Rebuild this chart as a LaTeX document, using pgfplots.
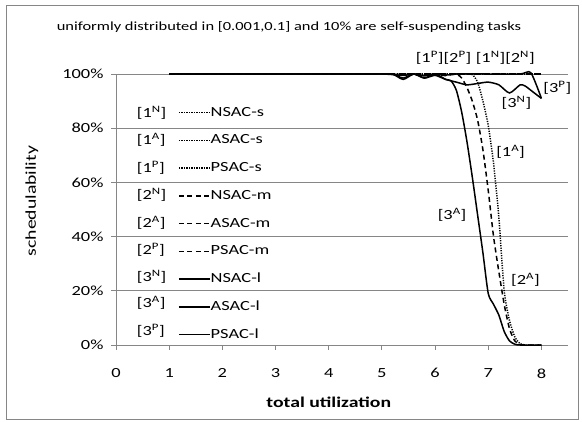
\documentclass[border=0pt]{standalone}
\usepackage{pgfplots}
\pgfplotsset{compat=1.18}
\usepackage{fontspec}
\setmainfont{Carlito}[FakeStretch=1.32]
\definecolor{gridc}{RGB}{134,134,134}
\begin{document}
\begin{tikzpicture}[x=1bp,y=1bp]
\useasboundingbox (0,0) rectangle (582,421);
\draw[gridc,line width=0.8bp] (6,2) rectangle (578,416);
\node[font=\fontsize{12.5}{14}\selectfont] at (289,394) {uniformly distributed in [0.001,0.1] and 10\% are self-suspending tasks};
\begin{axis}[
  at={(116bp,76bp)}, anchor=south west,
  scale only axis, width=452bp, height=271bp,
  xmin=0, xmax=8.5, ymin=0, ymax=100,
  xtick={0,1,...,8}, ytick={0,20,...,100},
  yticklabel={\pgfmathprintnumber{\tick}\%},
  axis x line*=bottom, axis y line*=left,
  axis line style={gridc, line width=0.8bp},
  every tick/.style={gridc, line width=0.8bp},
  tick align=outside, major tick length=5bp,
  ymajorgrids, grid style={gridc, line width=0.8bp},
  tick label style={font=\fontsize{14}{16}\selectfont},
  /pgf/number format/assume math mode=true,
  xticklabel style={yshift=-15bp},
  yticklabel style={xshift=-4bp},
  xlabel={\textbf{total utilization}},
  xlabel style={font=\fontsize{15}{17}\selectfont, at={(axis description cs:0.4706,0)}, anchor=center, yshift=-57bp},
  ylabel={schedulability},
  ylabel style={font=\fontsize{15}{17}\selectfont, at={(axis description cs:-0.186,0.531)}, anchor=center},
  clip=false,
  legend style={at={(axis cs:1.11,89)}, anchor=north west, draw=none, fill=none,
    font=\fontsize{14}{16}\selectfont, row sep=14.75bp,
    nodes={inner sep=0pt, text height=10bp, text depth=3bp}},
  legend cell align=left,
  legend image code/.code={\draw[#1] (0bp,0bp) -- (31bp,0bp);},
  every axis plot/.append style={black, line width=1.5bp, smooth, tension=0.4, no markers},
]
% [1^N] NSAC-s (dotted)
\addplot[black, dash pattern=on 1.2bp off 1.3bp] coordinates {(1,100)(2,100)(3,100)(4,100)(5,100)(6,100)(7,100)(7.5,100)(8,100)};
\addlegendentry{NSAC-s}
% [1^A] ASAC-s (dotted)
\addplot[black, dash pattern=on 1.2bp off 1.3bp] coordinates {(1,100)(5,100)(6,100)(6.6,100)(6.7,99.8)(6.8,97)(6.9,90)(7.0,81)(7.1,67)(7.2,47)(7.3,20)(7.4,9)(7.5,3)(7.6,0.5)(7.7,0)(8,0)};
\addlegendentry{ASAC-s}
% [1^P] PSAC-s (dotted)
\addplot[black, dash pattern=on 1.2bp off 1.3bp] coordinates {(1,100)(2,100)(3,100)(4,100)(5,100)(6,100)(7,100)(8,100)};
\addlegendentry{PSAC-s}
% [2^N] NSAC-m (dashed)
\addplot[black, dash pattern=on 5bp off 3.5bp] coordinates {(1,100)(2,100)(3,100)(4,100)(5,100)(6,100)(7,100)(8,100)};
\addlegendentry{NSAC-m}
% [2^A] ASAC-m (dashed)
\addplot[black, dash pattern=on 5bp off 3.5bp] coordinates {(1,100)(5,100)(6,100)(6.4,99.8)(6.5,98.5)(6.6,95)(6.7,90)(6.8,83)(6.9,72)(7.0,57)(7.1,40)(7.2,27)(7.3,15)(7.4,6)(7.5,1.5)(7.6,0.2)(7.7,0)(8,0)};
\addlegendentry{ASAC-m}
% [2^P] PSAC-m (dashed)
\addplot[black, dash pattern=on 5bp off 3.5bp] coordinates {(1,100)(2,100)(3,100)(4,100)(5,100)(5.8,99.6)(6,100)(6.2,99.4)(6.4,100)(7,100)(8,100)};
\addlegendentry{PSAC-m}
% [3^N] NSAC-l (solid)
\addplot[black, solid] coordinates {(1,100)(2,100)(3,100)(4,100)(5,100)(5.2,100)(5.4,98)(5.6,100)(5.8,98.5)(6.0,99.5)(6.2,98)(6.4,97)(6.6,96)(6.8,96.5)(7.0,97)(7.2,96)(7.4,93)(7.6,96)(7.7,95.5)(7.8,94)(8.0,91)};
\addlegendentry{NSAC-l}
% [3^A] ASAC-l (solid)
\addplot[black, solid] coordinates {(1,100)(2,100)(3,100)(4,100)(5,100)(5.2,100)(5.4,98.5)(5.6,100)(5.8,98.5)(6.0,100)(6.2,98)(6.3,97.5)(6.4,94)(6.5,86)(6.6,75)(6.7,62)(6.8,48)(6.9,34)(7.0,19)(7.1,15)(7.2,11)(7.3,5)(7.4,1.5)(7.5,0.3)(7.6,0)(8,0)};
\addlegendentry{ASAC-l}
% [3^P] PSAC-l (solid)
\addplot[black, solid] coordinates {(1,100)(2,100)(3,100)(4,100)(5,100)(5.4,99.5)(5.6,100)(5.8,99.3)(6.0,100)(6.2,99.6)(6.4,100)(7,100)(7.6,100)(7.8,100.5)(8,91)};
\addlegendentry{PSAC-l}
% bracket labels
\begin{scope}[every node/.style={font=\fontsize{14}{16}\selectfont, anchor=west, inner sep=0pt}]
\node at (axis cs:0.39,85.6) {[1\textsuperscript{N}]};
\node at (axis cs:0.39,75.6) {[1\textsuperscript{A}]};
\node at (axis cs:0.39,65.3) {[1\textsuperscript{P}]};
\node at (axis cs:0.39,55.4) {[2\textsuperscript{N}]};
\node at (axis cs:0.39,45.0) {[2\textsuperscript{A}]};
\node at (axis cs:0.39,35.1) {[2\textsuperscript{P}]};
\node at (axis cs:0.39,25.1) {[3\textsuperscript{N}]};
\node at (axis cs:0.39,15.5) {[3\textsuperscript{A}]};
\node at (axis cs:0.39,5.2) {[3\textsuperscript{P}]};
\end{scope}
\begin{scope}[every node/.style={font=\fontsize{14}{16}\selectfont, inner sep=0pt}]
\node at (axis cs:6.16,105.9) {[1\textsuperscript{P}][2\textsuperscript{P}]};
\node at (axis cs:7.32,105.9) {[1\textsuperscript{N}][2\textsuperscript{N}]};
\node at (axis cs:7.53,89.5) {[3\textsuperscript{N}]};
\node at (axis cs:8.3,94.8) {[3\textsuperscript{P}]};
\node at (axis cs:7.42,71.2) {[1\textsuperscript{A}]};
\node at (axis cs:6.32,48) {[3\textsuperscript{A}]};
\node at (axis cs:7.7,24) {[2\textsuperscript{A}]};
\end{scope}
\end{axis}
\end{tikzpicture}
\end{document}
